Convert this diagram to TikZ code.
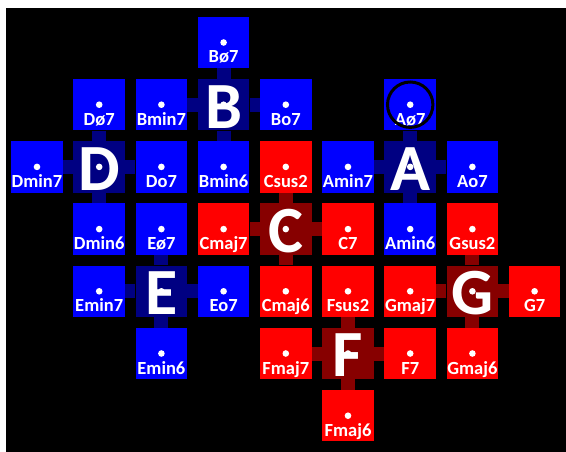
\documentclass[tikz,border=0pt]{standalone}
\usepackage{fontspec}
\setmainfont{Carlito}
\definecolor{bl}{RGB}{0,0,255}
\definecolor{rd}{RGB}{255,0,0}
\definecolor{dbl}{RGB}{0,0,130}
\definecolor{drd}{RGB}{135,0,0}
\tikzset{
  sq/.style={rectangle, minimum size=51.5pt, inner sep=0pt, draw=none},
  bsq/.style={sq, fill=bl},
  rsq/.style={sq, fill=rd},
  bcen/.style={sq, fill=dbl},
  rcen/.style={sq, fill=drd},
  lab/.style={text=white, inner sep=0pt, anchor=base, font=\bfseries\fontsize{18.5}{21}\selectfont},
  big/.style={text=white, inner sep=0pt, anchor=center, font=\bfseries\fontsize{66}{70}\selectfont},
  bbar/.style={draw=dbl, line width=14pt},
  rbar/.style={draw=drd, line width=14pt},
}
\newcommand\chord[5]{%
  \node[#4] (#1) at (#2,#3) {};
  \fill[white] (#1.center) circle[radius=3.3pt];
  \node[lab] at ([yshift=-20.5pt]#1.center) {#5};
}
\newcommand\cen[5]{%
  \node[#4] (#1) at (#2,#3) {};
  \fill[white] (#1.center) circle[radius=3.3pt];
}
\begin{document}
\begin{tikzpicture}[x=1pt,y=-1pt]
\useasboundingbox (0,0) rectangle (566,452);
\fill[white] (0,0) rectangle (566,452);
\fill[black] (6,8) rectangle (566,452);
\begin{scope}[shift={(37,42.5)}, x=62.2pt, y=-62.2pt]
% centers
\cen{Bc}{3}{1}{bcen}{}
\cen{Dc}{1}{2}{bcen}{}
\cen{Ac}{6}{2}{bcen}{}
\cen{Cc}{4}{3}{rcen}{}
\cen{Ec}{2}{4}{bcen}{}
\cen{Gc}{7}{4}{rcen}{}
\cen{Fc}{5}{5}{rcen}{}
% B
\chord{Bhd}{3}{0}{bsq}{Bø7}
\chord{Bm7}{2}{1}{bsq}{Bmin7}
\chord{Bdim}{4}{1}{bsq}{Bo7}
\chord{Bm6}{3}{2}{bsq}{Bmin6}
% D
\chord{Dhd}{1}{1}{bsq}{Dø7}
\chord{Dm7}{0}{2}{bsq}{Dmin7}
\chord{Ddim}{2}{2}{bsq}{Do7}
\chord{Dm6}{1}{3}{bsq}{Dmin6}
% A
\chord{Ahd}{6}{1}{bsq}{Aø7}
\chord{Am7}{5}{2}{bsq}{Amin7}
\chord{Adim}{7}{2}{bsq}{Ao7}
\chord{Am6}{6}{3}{bsq}{Amin6}
% C
\chord{Cs2}{4}{2}{rsq}{Csus2}
\chord{CM7}{3}{3}{rsq}{Cmaj7}
\chord{C7}{5}{3}{rsq}{C7}
\chord{CM6}{4}{4}{rsq}{Cmaj6}
% E
\chord{Ehd}{2}{3}{bsq}{Eø7}
\chord{Em7}{1}{4}{bsq}{Emin7}
\chord{Edim}{3}{4}{bsq}{Eo7}
\chord{Em6}{2}{5}{bsq}{Emin6}
% G
\chord{Gs2}{7}{3}{rsq}{Gsus2}
\chord{GM7}{6}{4}{rsq}{Gmaj7}
\chord{G7}{8}{4}{rsq}{G7}
\chord{GM6}{7}{5}{rsq}{Gmaj6}
% F
\chord{Fs2}{5}{4}{rsq}{Fsus2}
\chord{FM7}{4}{5}{rsq}{Fmaj7}
\chord{F7}{6}{5}{rsq}{F7}
\chord{FM6}{5}{6}{rsq}{Fmaj6}
% bars
\foreach \n in {Bhd,Bm7,Bdim,Bm6} \draw[bbar] (Bc) -- (\n);
\foreach \n in {Dhd,Dm7,Ddim,Dm6} \draw[bbar] (Dc) -- (\n);
\foreach \n in {Ahd,Am7,Adim,Am6} \draw[bbar] (Ac) -- (\n);
\foreach \n in {Ehd,Em7,Edim,Em6} \draw[bbar] (Ec) -- (\n);
\foreach \n in {Cs2,CM7,C7,CM6} \draw[rbar] (Cc) -- (\n);
\foreach \n in {Gs2,GM7,G7,GM6} \draw[rbar] (Gc) -- (\n);
\foreach \n in {Fs2,FM7,F7,FM6} \draw[rbar] (Fc) -- (\n);
% big letters
\node[big] at ([yshift=-2pt]Bc.center) {B};
\node[big] at ([yshift=-2pt]Dc.center) {D};
\node[big] at ([yshift=-2pt]Ac.center) {A};
\node[big] at ([yshift=-2pt]Cc.center) {C};
\node[big] at ([yshift=-2pt]Ec.center) {E};
\node[big] at ([yshift=-2pt]Gc.center) {G};
\node[big] at ([yshift=-2pt]Fc.center) {F};
% highlight circle
\draw[black, line width=3pt] (Ahd.center) circle[radius=22.7pt];
\end{scope}
\end{tikzpicture}
\end{document}
